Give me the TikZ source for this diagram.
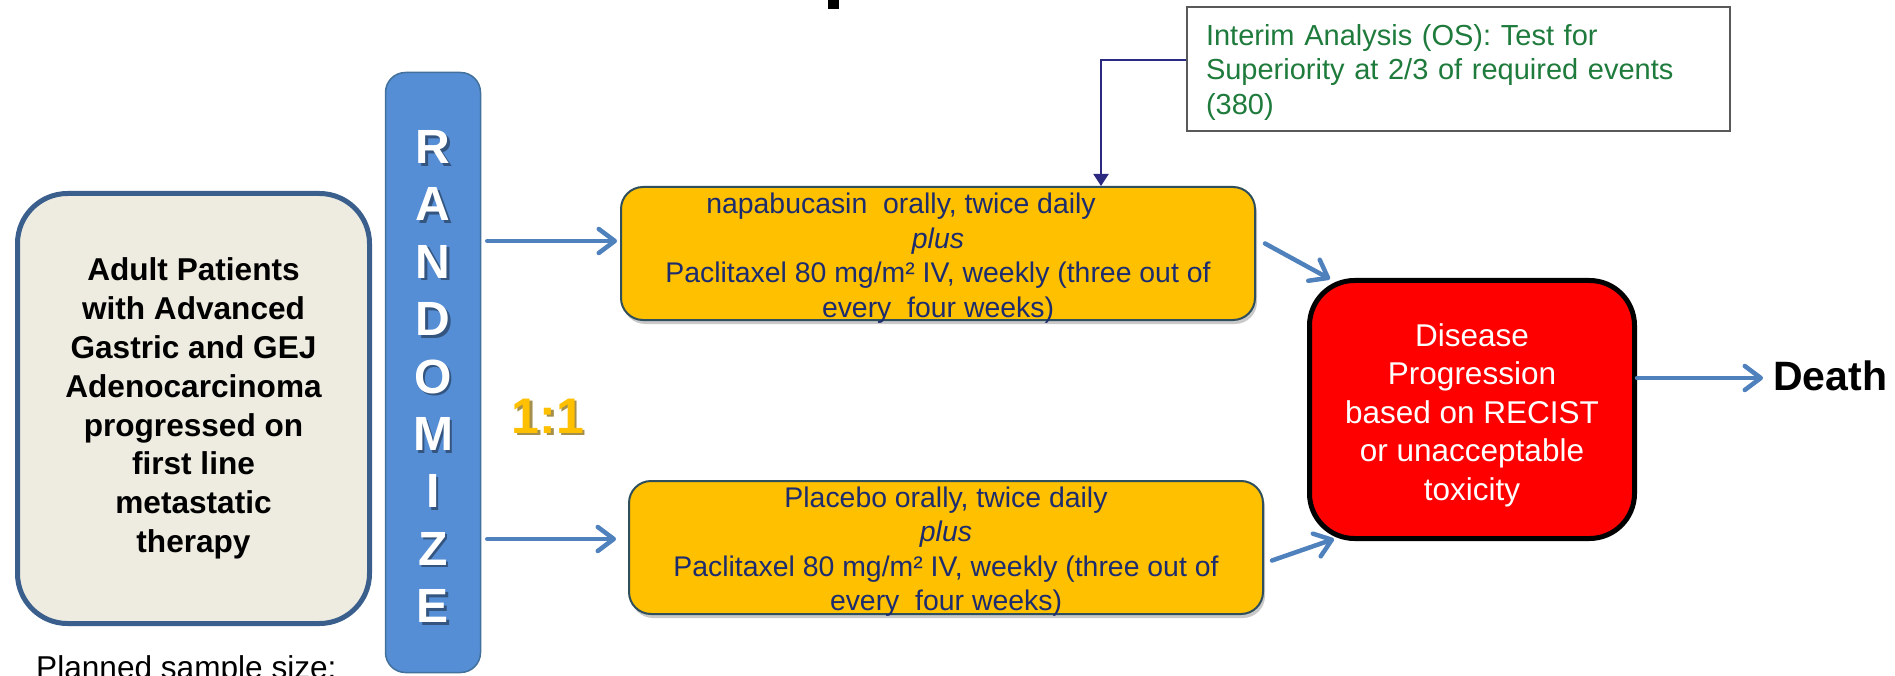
\documentclass[tikz,border=0pt]{standalone}
\usepackage{fontspec}
\setmainfont{Liberation Sans}
\usetikzlibrary{arrows.meta,shadows,calc}
\definecolor{patfill}{HTML}{EEECE1}
\definecolor{patline}{HTML}{3A5F8C}
\definecolor{randfill}{HTML}{558ED5}
\definecolor{randline}{HTML}{41719C}
\definecolor{armfill}{HTML}{FFC000}
\definecolor{armline}{HTML}{2F4F5C}
\definecolor{armtext}{HTML}{1C2C6E}
\definecolor{arrowblue}{HTML}{4F81BD}
\definecolor{navyline}{HTML}{2B2A80}
\definecolor{interimgreen}{HTML}{1E7B3C}
\definecolor{interimline}{HTML}{595959}
\definecolor{gold}{HTML}{FFC000}
\definecolor{goldshadow}{HTML}{7F6000}
\begin{document}
\begin{tikzpicture}[x=1pt,y=-1pt,
  patbox/.style={draw=patline, line width=5pt, fill=patfill, rounded corners=50pt,
    minimum width=352pt, minimum height=430pt, inner sep=0pt, align=center,
    font=\fontsize{31.6}{38.8}\selectfont\bfseries},
  randbox/.style={draw=randline, line width=1.5pt, fill=randfill, rounded corners=20pt,
    minimum width=95pt, minimum height=600pt, inner sep=0pt},
  randletter/.style={text=white, font=\fontsize{48}{48}\selectfont\bfseries, inner sep=0pt},
  randshade/.style={text=black, opacity=0.4, font=\fontsize{48}{48}\selectfont\bfseries, inner sep=0pt},
  armbox/.style={draw=armline, line width=2pt, fill=armfill, rounded corners=22pt,
    minimum width=634pt, minimum height=133pt, inner sep=0pt,
    drop shadow={shadow xshift=2pt, shadow yshift=-4pt, opacity=0.35, fill=black!60}},
  armtxt/.style={inner sep=0pt, align=center, text=armtext,
    font=\fontsize{28.4}{34.5}\selectfont},
  redbox/.style={draw=black, line width=5pt, fill=red, rounded corners=45pt,
    minimum width=325pt, minimum height=258pt, inner sep=0pt},
  redtxt/.style={inner sep=0pt, align=center, text=white,
    font=\fontsize{31.5}{38.5}\selectfont},
  interimbox/.style={draw=interimline, line width=1.5pt, fill=white,
    minimum width=543pt, minimum height=124pt, inner sep=0pt},
  interimtxt/.style={inner sep=0pt, text width=505pt, align=left, text=interimgreen,
    font=\fontsize{29}{34.5}\selectfont},
  arr/.style={draw=arrowblue, line width=4.5pt, line cap=round,
    -{Straight Barb[length=16pt,width=24pt,round]}},
  navyarr/.style={draw=navyline, line width=2pt, -{Triangle[length=12pt,width=15pt]}},
  plaintext/.style={inner sep=0pt, anchor=base west}
]
\useasboundingbox (0,0) rectangle (1895,676);
\clip (0,0) rectangle (1895,676);
\fill[white] (0,0) rectangle (1895,676);

% cut-off title fragment
\fill[black] (828,0) rectangle (839,9);

% nodes
\node[patbox] (pat) at (193.5,408.5) {Adult Patients\\ with Advanced\\ Gastric and GEJ\\ Adenocarcinoma\\ progressed on\\ first line\\ metastatic\\ therapy};

\node[randbox] (rand) at (433,372.5) {};
\foreach \L [count=\i] in {R,A,N,D,O,M,I,Z,E} {
  \node[randshade] (rs\i) at (435.5, {147+57.4*(\i-1)+2.5}) {\L};
  \node[randletter] (rl\i) at (433, {147+57.4*(\i-1)}) {\L};
}

\node[inner sep=0pt, text=goldshadow, opacity=0.7, font=\fontsize{50}{50}\selectfont\bfseries] (ones) at (550.5,418.5) {1:1};
\node[inner sep=0pt, text=gold, font=\fontsize{50}{50}\selectfont\bfseries] (one) at (548,416) {1:1};

\node[armbox] (top) at (938,253.5) {};
\node[armtxt] (topt) at (938,258) {napabucasin\ \ orally, twice daily\kern74pt\\ \textit{plus}\\ Paclitaxel 80 mg/m² IV, weekly (three out of\\ every\ \ four weeks)};
\node[armbox] (bot) at (946,547.5) {};
\node[armtxt] (bott) at (946,551.5) {Placebo orally, twice daily\\ \textit{plus}\\ Paclitaxel 80 mg/m² IV, weekly (three out of\\ every\ \ four weeks)};

\node[redbox] (red) at (1472,409.5) {};
\node[redtxt] (redt) at (1472,415) {Disease\\ Progression\\ based on RECIST\\ or unacceptable\\ toxicity};

\node[interimbox] (interim) at (1458.5,69) {};
\node[interimtxt] (interimt) at (1458.5,72) {Interim Analysis (OS): Test for\\ Superiority at 2/3 of required events\\ (380)};

\node[plaintext, font=\fontsize{41}{41}\selectfont\bfseries] (death) at (1773,390) {Death};
\node[plaintext, font=\fontsize{31.6}{38}\selectfont] (planned) at (36,678) {Planned sample size:};

% connectors
\coordinate (t1) at ([yshift=12.5pt]top.west);
\draw[arr, shorten <=6pt, shorten >=3pt] (rand.east |- t1) -- (t1);
\coordinate (b1) at ([yshift=8.5pt]bot.west);
\draw[arr, shorten <=6pt, shorten >=12pt] (rand.east |- b1) -- (b1);

\draw[arr] ([xshift=9pt,yshift=10pt]top.east) -- ([xshift=23pt,yshift=-1pt]red.north west);
\draw[arr] ([xshift=8pt,yshift=-13pt]bot.east) -- ([xshift=27pt,yshift=2pt]red.south west);

\coordinate (d1) at ([yshift=31.5pt]red.east);
\draw[arr, shorten >=10pt] (d1) -- (d1 -| death.west);

\coordinate (i1) at ([yshift=9pt]interim.west);
\coordinate (i2) at ([xshift=163pt]top.north);
\draw[navyarr] (i1) -| (i2);
\end{tikzpicture}
\end{document}
